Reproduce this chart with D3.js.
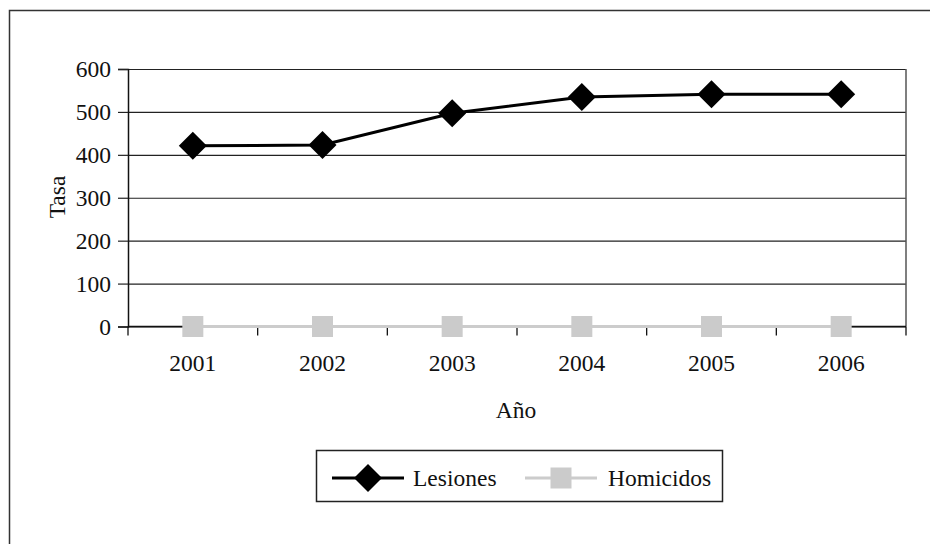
<!DOCTYPE html>
<html>
<head>
<meta charset="utf-8">
<script src="https://cdn.jsdelivr.net/npm/d3@7"></script>
<style>
  body { margin: 0; background: #fff; }
  svg { display: block; }
  svg text { font-family: "Liberation Serif", "Times New Roman", serif; }
</style>
</head>
<body>
<div id="chart"></div>
<script>
var years = ['2001', '2002', '2003', '2004', '2005', '2006'];
var lesiones = [421, 423, 497, 535, 541, 541];
var homicidios = [0, 0, 0, 0, 0, 0];
var yTicks = [0, 100, 200, 300, 400, 500, 600];
var seriesNames = ['Lesiones', 'Homicidos'];

var W = 930, H = 544;
var FS = 23.5;
var margin = { top: 69, right: 24, bottom: 217.5, left: 128 };
var plotW = W - margin.left - margin.right;
var plotH = H - margin.top - margin.bottom;

var svg = d3.select('#chart').append('svg')
  .attr('width', W).attr('height', H);

// outer frame (runs off the right and bottom edge)
svg.append('rect')
  .attr('x', 9.5).attr('y', 10.5)
  .attr('width', W + 20).attr('height', H + 20)
  .attr('fill', 'none')
  .attr('stroke', '#333').attr('stroke-width', 1.5);

var g = svg.append('g').attr('transform', 'translate(' + margin.left + ',' + margin.top + ')');

var x = d3.scaleBand().domain(years).range([0, plotW]).padding(0);
var y = d3.scaleLinear().domain([0, 600]).range([plotH, 0]);
var cx = function (d) { return x(d) + x.bandwidth() / 2; };

// gridlines
g.append('g')
  .call(d3.axisLeft(y).tickValues(yTicks).tickSize(-plotW).tickFormat(''))
  .call(function (s) {
    s.select('.domain').remove();
    s.selectAll('line').attr('stroke', '#222').attr('stroke-width', 1.2);
  });

// right border of plot area
g.append('line')
  .attr('x1', plotW).attr('x2', plotW)
  .attr('y1', 0).attr('y2', plotH)
  .attr('stroke', '#555').attr('stroke-width', 1.5);

// y axis
g.append('g')
  .call(d3.axisLeft(y).tickValues(yTicks).tickSize(10).tickPadding(7))
  .attr('font-family', null).attr('font-size', null)
  .call(function (s) {
    s.select('.domain').attr('stroke', '#111').attr('stroke-width', 1.5);
    s.selectAll('line').attr('stroke', '#222').attr('stroke-width', 1.2);
    s.selectAll('text').attr('font-size', FS).attr('fill', '#111');
  });

// x axis line with tick marks at category boundaries
var bounds = years.map(function (d) { return x(d); }).concat([plotW]);
g.append('line')
  .attr('x1', 0).attr('x2', plotW)
  .attr('y1', plotH).attr('y2', plotH)
  .attr('stroke', '#111').attr('stroke-width', 1.5);
g.selectAll('.xtick').data(bounds).join('line').attr('class', 'xtick')
  .attr('x1', function (d) { return d; }).attr('x2', function (d) { return d; })
  .attr('y1', plotH).attr('y2', plotH + 9)
  .attr('stroke', '#111').attr('stroke-width', 1.3);
g.selectAll('.xlab').data(years).join('text').attr('class', 'xlab')
  .attr('x', cx).attr('y', plotH + 44)
  .attr('text-anchor', 'middle')
  .attr('font-size', FS).attr('fill', '#111')
  .text(function (d) { return d; });

// axis titles
svg.append('text')
  .attr('x', 516).attr('y', 418)
  .attr('text-anchor', 'middle')
  .attr('font-size', FS).attr('fill', '#111')
  .text('Año');
svg.append('text')
  .attr('transform', 'translate(65,197) rotate(-90)')
  .attr('text-anchor', 'middle')
  .attr('font-size', FS).attr('fill', '#111')
  .text('Tasa');

// Homicidos series
var line = d3.line().x(function (d, i) { return cx(years[i]); }).y(function (d) { return y(d); });
g.append('path').datum(homicidios)
  .attr('d', line)
  .attr('fill', 'none').attr('stroke', '#ccc').attr('stroke-width', 3);
g.selectAll('.hom').data(homicidios).join('rect').attr('class', 'hom')
  .attr('x', function (d, i) { return cx(years[i]) - 10.5; })
  .attr('y', function (d) { return y(d) - 10.5; })
  .attr('width', 21).attr('height', 21)
  .attr('fill', '#cbcbcb');

// Lesiones series
g.append('path').datum(lesiones)
  .attr('d', line)
  .attr('fill', 'none').attr('stroke', '#000').attr('stroke-width', 3);
var diamond = 'M0,-14L14,0L0,14L-14,0Z';
g.selectAll('.les').data(lesiones).join('path').attr('class', 'les')
  .attr('transform', function (d, i) { return 'translate(' + cx(years[i]) + ',' + y(d) + ')'; })
  .attr('d', diamond)
  .attr('fill', '#000');

// legend
var lg = svg.append('g');
lg.append('rect')
  .attr('x', 316.5).attr('y', 450.5)
  .attr('width', 406).attr('height', 51)
  .attr('fill', '#fff').attr('stroke', '#222').attr('stroke-width', 1.5);
var ly = 478;
lg.append('line').attr('x1', 332).attr('x2', 404).attr('y1', ly).attr('y2', ly)
  .attr('stroke', '#000').attr('stroke-width', 3);
lg.append('path').attr('transform', 'translate(368,' + ly + ')').attr('d', diamond).attr('fill', '#000');
lg.append('text').attr('x', 413).attr('y', ly + 8)
  .attr('font-size', FS).attr('fill', '#111').text(seriesNames[0]);
lg.append('line').attr('x1', 525).attr('x2', 597).attr('y1', ly).attr('y2', ly)
  .attr('stroke', '#ccc').attr('stroke-width', 3);
lg.append('rect').attr('x', 561 - 10.5).attr('y', ly - 10.5)
  .attr('width', 21).attr('height', 21).attr('fill', '#cbcbcb');
lg.append('text').attr('x', 608).attr('y', ly + 8)
  .attr('font-size', FS).attr('fill', '#111').text(seriesNames[1]);
</script>
</body>
</html>
